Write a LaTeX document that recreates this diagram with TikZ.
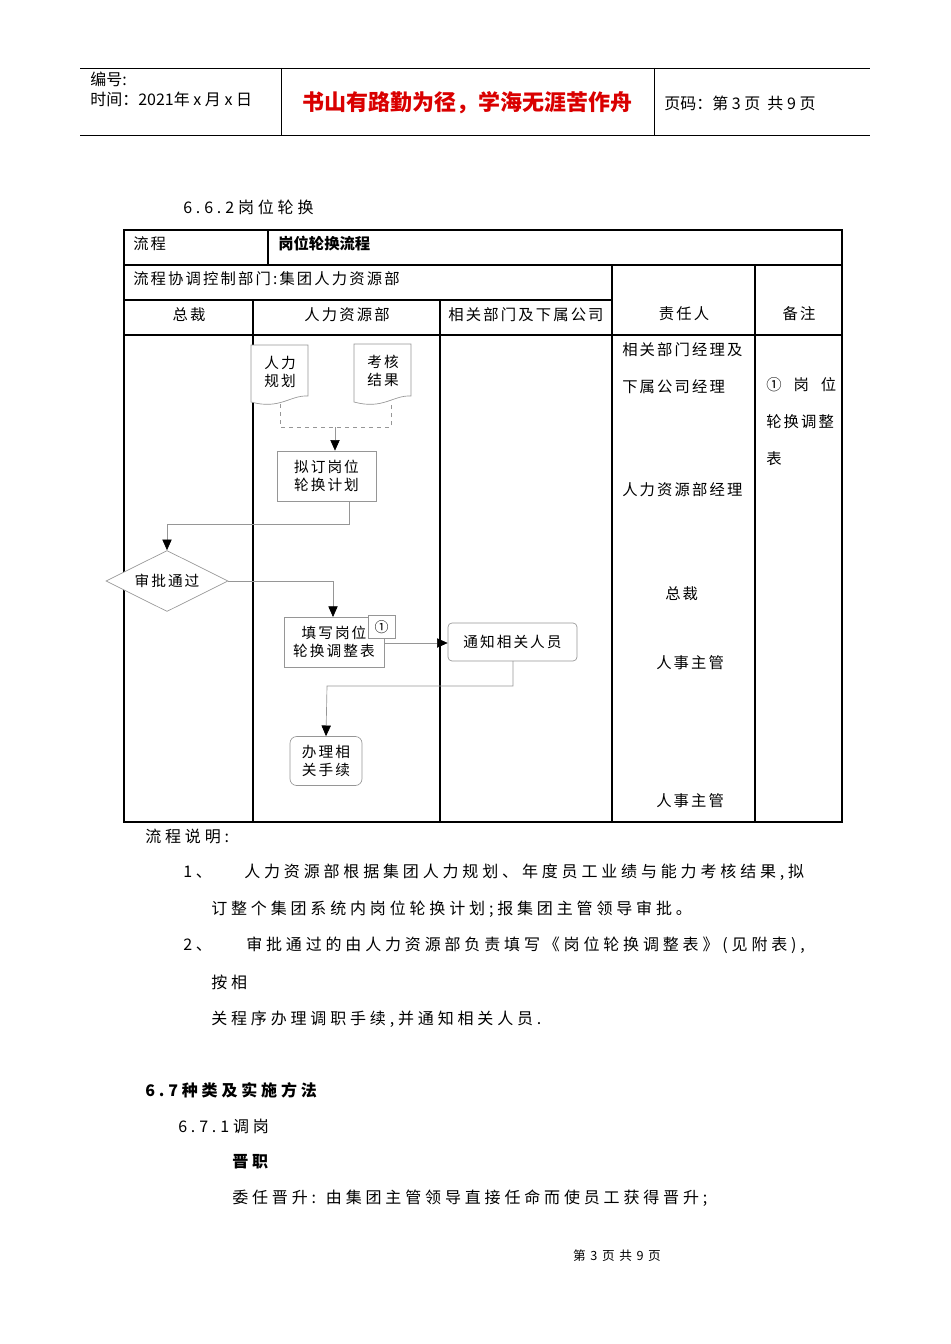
\documentclass[tikz,border=0pt]{standalone}
\usepackage{fontspec}
\setmainfont{Noto Sans CJK SC}
\newfontfamily\spfont[LetterSpace=14]{Noto Sans CJK SC}
\newfontfamily\pfont[LetterSpace=24]{Noto Sans CJK SC}
\usetikzlibrary{shapes.geometric,arrows.meta}
\definecolor{grl}{RGB}{150,150,150}
\tikzset{
 tl/.style={line width=0.8pt,black},
 fl/.style={draw=grl,line width=0.5pt},
 arr/.style={fl,-{Triangle[length=8pt,width=7pt,fill=black,color=black]}},
 tx/.style={inner sep=0pt,anchor=west,font=\spfont\fontsize{11.5}{13}\selectfont},
 px/.style={inner sep=0pt,anchor=west,font=\pfont\fontsize{12}{14}\selectfont},
 ft/.style={inner sep=0pt,align=center,font=\spfont\fontsize{11}{13.5}\selectfont},
 fbox/.style={fl,fill=white,minimum width=75pt,minimum height=37.5pt,ft},
}
\begin{document}
\begin{tikzpicture}[x=0.75pt,y=-0.75pt]
\useasboundingbox (0,0) rectangle (950,1344);
% header
\draw[tl,line width=0.6pt] (80,68)--(870,68) (80,135)--(870,135) (281,68)--(281,135) (654,68)--(654,135);
\node[tx,font=\fontsize{12}{14}\selectfont] (hb) at (90,79) {编号:};
\node[tx,font=\fontsize{12}{14}\selectfont] (ht) at (90,99) {时间：2021年 x 月 x 日};
\node[inner sep=0pt,text=red!85!black,font=\bfseries\fontsize{16.5}{19}\selectfont] (hr) at (467,103) {书山有路勤为径，学海无涯苦作舟};
\node[tx,font=\fontsize{12}{14}\selectfont] (hp) at (664,103) {页码：第 3 页 \ 共 9 页};
\node[px] (t662) at (183,207) {6.6.2岗位轮换};
% table
\draw[tl] (124,230) rectangle (842,822);
\draw[tl] (124,265)--(842,265) (124,300)--(612,300) (124,335)--(842,335)
 (268,230)--(268,265) (612,265)--(612,822) (755,265)--(755,822)
 (253,300)--(253,822) (440,300)--(440,822);
\node[tx] (c1) at (133,244) {流程};
\node[tx,font=\bfseries\fontsize{11.5}{13}\selectfont] (c2) at (278,244) {岗位轮换流程};
\node[tx] (c3) at (133,279) {流程协调控制部门:集团人力资源部};
\node[ft,font=\spfont\fontsize{11.5}{13}\selectfont] (h1) at (189,315) {总裁};
\node[ft,font=\spfont\fontsize{11.5}{13}\selectfont] (h2) at (347,315) {人力资源部};
\node[ft,font=\spfont\fontsize{11.5}{13}\selectfont] (h3) at (526,315) {相关部门及下属公司};
\node[ft,font=\spfont\fontsize{11.5}{13}\selectfont] (h4) at (684,314) {责任人};
\node[ft,font=\spfont\fontsize{11.5}{13}\selectfont] (h5) at (799,314) {备注};
% documents
\draw[fl,fill=white] (251,345)--(308,345)--(308,396) .. controls (290,395) and (280,410) .. (251,402)--cycle;
\draw[fl,fill=white] (354,344)--(411,344)--(411,396) .. controls (393,395) and (383,410) .. (354,402)--cycle;
\node[ft] (d1) at (280,372) {人力\\规划};
\node[ft] (d2) at (383,371) {考核\\结果};
\draw[fl,dashed] (280,404)--(280,427)--(391,427)--(391,404);
\coordinate (dm) at (335,427);
\node[fbox,minimum width=74pt] (b1) at (326.5,476) {拟订岗位\\轮换计划};
\draw[arr] (dm)--(b1.north -| dm);
\node[diamond,fl,fill=white,minimum width=91.5pt,minimum height=45.75pt,inner sep=0pt,aspect=2,ft] (dia) at (167,581) {审批通过};
\draw[arr] (349,501)--(349,524)--(167,524)--(dia.north);
\node[fbox] (b2) at (334,642) {填写岗位\\轮换调整表};
\draw[arr] (dia.east)--(333,581)--(333,617);
\node[fl,fill=white,minimum width=20pt,minimum height=17pt,inner sep=0pt,font=\fontsize{10.5}{12}\selectfont] (c1m) at (381.5,627) {①};
\node[fbox,rounded corners=3pt,minimum width=96.75pt,minimum height=28.5pt] (b3) at (512.5,642) {通知相关人员};
\draw[arr] (384,643)--(b3.west|-0,643);
\node[fbox,rounded corners=5pt,minimum width=54pt,minimum height=36.75pt] (b4) at (326,761) {办理相\\关手续};
\draw[arr] (513,661)--(513,686)--(327,686)--(b4.north);
% right column
\node[tx] (r1) at (622,350) {相关部门经理及};
\node[tx] (r2) at (622,387) {下属公司经理};
\node[tx] (r3) at (622,490) {人力资源部经理};
\node[tx] (r4) at (665,594) {总裁};
\node[tx] (r5) at (656,663) {人事主管};
\node[tx] (r6) at (656,801) {人事主管};
\node[tx] (m1) at (766,385) {①\hspace{9pt}岗\hspace{9pt}位};
\node[tx] (m2) at (766,422) {轮换调整};
\node[tx] (m3) at (766,459) {表};
% text
\node[px] (p0) at (145,836) {流程说明:};
\node[px] (p1) at (183,872) {1、};
\node[px] (p1a) at (244,872) {人力资源部根据集团人力规划、年度员工业绩与能力考核结果,拟};
\node[px] (p1b) at (211,909) {订整个集团系统内岗位轮换计划;报集团主管领导审批。};
\node[px] (p2) at (183,945) {2、};
\node[px] (p2a) at (246,945) {审批通过的由人力资源部负责填写《岗位轮换调整表》(见附表),};
\node[px] (p2b) at (211,982) {按相};
\node[px] (p2c) at (211,1019) {关程序办理调职手续,并通知相关人员.};
\node[px,font=\pfont\bfseries\fontsize{12}{14}\selectfont] (s67) at (145,1090) {6.7种类及实施方法};
\node[px] (s671) at (178,1126) {6.7.1调岗};
\node[px,font=\pfont\bfseries\fontsize{12}{14}\selectfont] (jz) at (232,1162) {晋职};
\node[px] (wr) at (232,1198) {委任晋升: 由集团主管领导直接任命而使员工获得晋升;};
\node[inner sep=0pt,font=\spfont\fontsize{9.5}{11}\selectfont] (ft) at (617,1256) {第 3 页 共 9 页};
\end{tikzpicture}
\end{document}
